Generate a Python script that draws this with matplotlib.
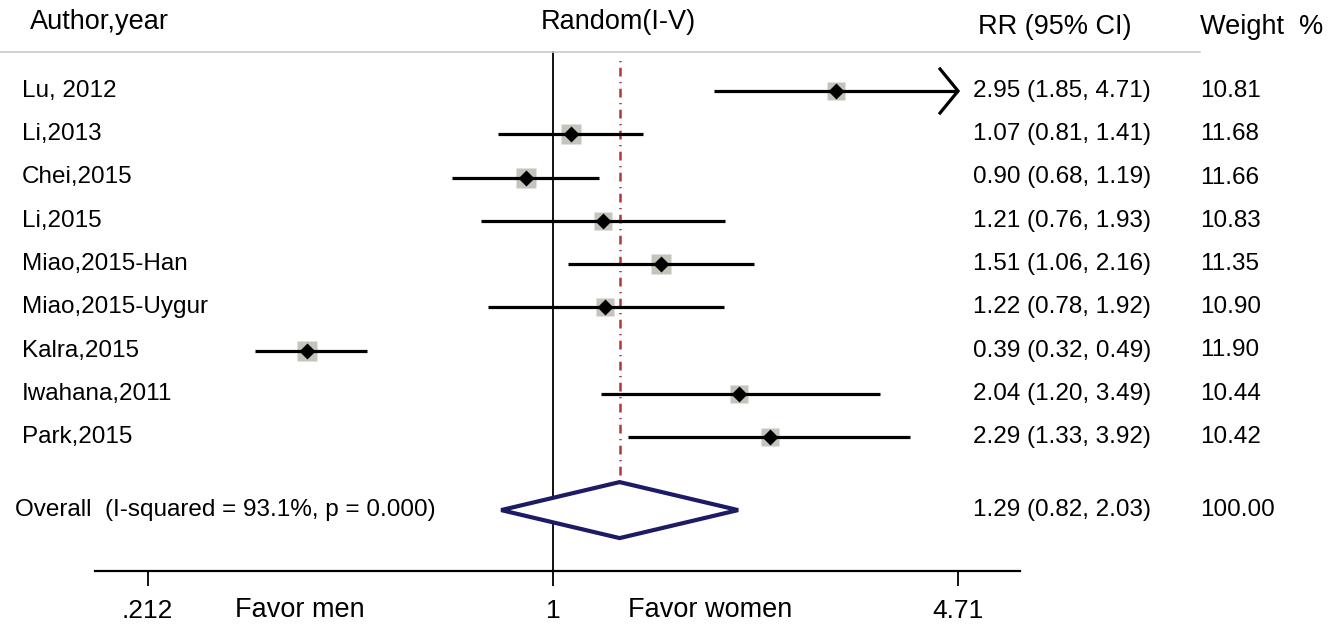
import numpy as np
import matplotlib
matplotlib.use("Agg")
import matplotlib.pyplot as plt
from matplotlib.transforms import blended_transform_factory
from matplotlib.lines import Line2D

plt.rcParams['font.family'] = ['Liberation Sans', 'DejaVu Sans']

# Study data
studies = ["Lu, 2012", "Li,2013", "Chei,2015", "Li,2015", "Miao,2015-Han",
           "Miao,2015-Uygur", "Kalra,2015", "Iwahana,2011", "Park,2015"]
rr = [2.95, 1.07, 0.90, 1.21, 1.51, 1.22, 0.39, 2.04, 2.29]
ci_low = [1.85, 0.81, 0.68, 0.76, 1.06, 0.78, 0.32, 1.20, 1.33]
ci_high = [4.71, 1.41, 1.19, 1.93, 2.16, 1.92, 0.49, 3.49, 3.92]
weights = [10.81, 11.68, 11.66, 10.83, 11.35, 10.90, 11.90, 10.44, 10.42]

overall_label = "Overall  (I-squared = 93.1%, p = 0.000)"
overall_rr = 1.29
overall_low = 0.82
overall_high = 2.03
overall_weight = 100.00

tick_values = [0.212, 1, 4.71]
tick_labels = [".212", "1", "4.71"]

W, H = 1329, 627
fig = plt.figure(figsize=(W / 100, H / 100), dpi=100)

def fx(px):
    return px / W

def fy(py):
    return 1 - py / H

# Main axes: x is log scale, y is row index (0 at top)
ax_left, ax_right, ax_bottom_px = 95, 1020, 571
ax = fig.add_axes([fx(ax_left), fy(ax_bottom_px), fx(ax_right - ax_left), ax_bottom_px / H])
ax.set_xscale('log')
ax.set_xlim(0.1733, 5.97)

row0_px, row_step_px = 91, 43.25
ax.set_ylim((ax_bottom_px - row0_px) / row_step_px, (0 - row0_px) / row_step_px)

for s in ['left', 'right', 'top']:
    ax.spines[s].set_visible(False)
ax.spines['bottom'].set_linewidth(1.6)
ax.set_yticks([])
ax.minorticks_off()
ax.set_xticks(tick_values)
ax.set_xticklabels(tick_labels, fontsize=19)
ax.tick_params(axis='x', which='major', length=11, width=1.3, pad=9)
ax.tick_params(axis='x', which='minor', length=0)
ax.patch.set_alpha(0)

n = len(studies)
rows = np.arange(n)
overall_row = n + 0.69

# reference line at 1 and dash-dot line at pooled estimate
ax.axvline(1, ymin=0, ymax=(ax_bottom_px - 52) / ax_bottom_px, color='black', lw=1.3, zorder=1)
ax.axvline(overall_rr, ymin=(ax_bottom_px - 538) / ax_bottom_px, ymax=(ax_bottom_px - 55) / ax_bottom_px,
           color='#b03838', lw=1.8, ls=(0, (3.5, 2.2, 0.5, 2.2)), zorder=1)

xmax_tick = tick_values[-1]
for i in range(n):
    lo, hi, est = ci_low[i], ci_high[i], rr[i]
    ax.plot([lo, hi], [rows[i], rows[i]], color='black', lw=2.3, solid_capstyle='butt', zorder=3)
    side = 13.6 * np.sqrt(weights[i] / 11.0)
    ax.plot(est, rows[i], marker='s', ms=side, color='#c4c4bc', mec='none', zorder=2)
    ax.plot(est, rows[i], marker='D', ms=8.2, color='black', mec='none', zorder=4)
    if hi >= xmax_tick:
        back = hi * np.exp(-18 / 261.3)
        dy = 22 / row_step_px
        ax.plot([back, hi, back], [rows[i] - dy, rows[i], rows[i] + dy],
                color='black', lw=2.3, solid_joinstyle='miter', zorder=3)

# pooled diamond
dh = 28 / row_step_px
ax.fill([overall_low, overall_rr, overall_high, overall_rr],
        [overall_row, overall_row - dh, overall_row, overall_row + dh],
        facecolor='white', edgecolor='#1c1c66', lw=3.0, zorder=5, joinstyle='miter')

# header rule
fig.add_artist(Line2D([0, fx(1200)], [fy(52), fy(52)], color='#c8c8d2', lw=1.2))

# headers
hfs = 19.5
fig.text(fx(30), fy(22), "Author,year", fontsize=hfs, va='center', ha='left')
fig.text(fx(618), fy(22), "Random(I-V)", fontsize=hfs, va='center', ha='center')
fig.text(fx(978), fy(27), "RR (95% CI)", fontsize=hfs, va='center', ha='left')
fig.text(fx(1200), fy(27), "Weight  %", fontsize=hfs, va='center', ha='left')

# row text
tfs = 17.5
tr = blended_transform_factory(fig.transFigure, ax.transData)
for i in range(n):
    ax.text(fx(22), rows[i], studies[i], transform=tr, fontsize=tfs, va='center', ha='left', clip_on=False)
    ax.text(fx(973), rows[i], f"{rr[i]:.2f} ({ci_low[i]:.2f}, {ci_high[i]:.2f})", transform=tr,
            fontsize=tfs, va='center', ha='left', clip_on=False)
    ax.text(fx(1200), rows[i], f"{weights[i]:.2f}", transform=tr, fontsize=tfs,
            va='center', ha='left', clip_on=False)

ax.text(fx(15), overall_row, overall_label, transform=tr, fontsize=tfs, va='center', ha='left', clip_on=False)
ax.text(fx(973), overall_row, f"{overall_rr:.2f} ({overall_low:.2f}, {overall_high:.2f})", transform=tr,
        fontsize=tfs, va='center', ha='left', clip_on=False)
ax.text(fx(1200), overall_row, f"{overall_weight:.2f}", transform=tr, fontsize=tfs,
        va='center', ha='left', clip_on=False)

# direction labels
fig.text(fx(235), fy(610), "Favor men", fontsize=hfs, va='center', ha='left')
fig.text(fx(628), fy(610), "Favor women", fontsize=hfs, va='center', ha='left')

fig.savefig("out.png", dpi=100, facecolor='white')
